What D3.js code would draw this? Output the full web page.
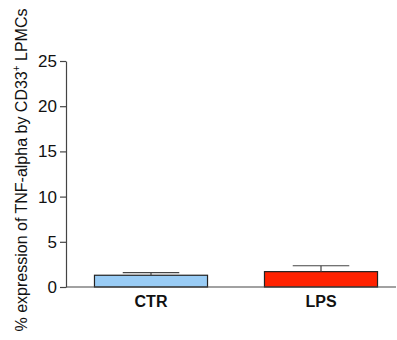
<!DOCTYPE html>
<html>
<head>
<meta charset="utf-8">
<script src="https://cdn.jsdelivr.net/npm/d3@7"></script>
<style>
  body { margin: 0; background: #fff; }
  svg { display: block; font-family: Arial, "Liberation Sans", sans-serif; }
</style>
</head>
<body>
<div id="chart"></div>
<script>
// Data
const categories = ['CTR', 'LPS'];
const means = [1.3, 1.7];
const errors = [0.3, 0.65];
const barColors = ['#99ccf5', '#ff2200'];
const yTicks = [0, 5, 10, 15, 20, 25];

const W = 397, H = 340;
const x0 = 66, yTop = 61, yBottom = 287;

const svg = d3.select('#chart')
    .append('svg')
    .attr('width', W)
    .attr('height', H);

const xScale = d3.scaleBand()
    .domain(categories)
    .range([x0, x0 + 340])
    .paddingInner(0.335)
    .paddingOuter(0.1675);

const yScale = d3.scaleLinear()
    .domain([0, 25])
    .range([yBottom, yTop]);

const axisColor = '#444';

// Bars
svg.selectAll('rect.bar')
    .data(categories)
    .enter()
    .append('rect')
    .attr('class', 'bar')
    .attr('x', d => xScale(d))
    .attr('y', (d, i) => yScale(means[i]))
    .attr('width', xScale.bandwidth())
    .attr('height', (d, i) => yScale(0) - yScale(means[i]))
    .attr('fill', (d, i) => barColors[i])
    .attr('stroke', '#222')
    .attr('stroke-width', 1.2);

// Error bars (upper only)
const capW = xScale.bandwidth() / 2;
categories.forEach((c, i) => {
    const cx = xScale(c) + xScale.bandwidth() / 2;
    svg.append('line')
        .attr('x1', cx).attr('x2', cx)
        .attr('y1', yScale(means[i]))
        .attr('y2', yScale(means[i] + errors[i]))
        .attr('stroke', axisColor)
        .attr('stroke-width', 1.2);
    svg.append('line')
        .attr('x1', cx - capW / 2).attr('x2', cx + capW / 2)
        .attr('y1', yScale(means[i] + errors[i]))
        .attr('y2', yScale(means[i] + errors[i]))
        .attr('stroke', axisColor)
        .attr('stroke-width', 1.2);
});

// Y axis
const yAxis = d3.axisLeft(yScale)
    .tickValues(yTicks)
    .tickSize(6)
    .tickPadding(3)
    .tickSizeOuter(0);

const gy = svg.append('g')
    .attr('transform', `translate(${x0},0)`)
    .call(yAxis);
gy.select('.domain').attr('stroke', axisColor).attr('stroke-width', 1.2);
gy.selectAll('.tick line').attr('stroke', axisColor).attr('stroke-width', 1.2);
gy.selectAll('.tick text')
    .attr('fill', '#111')
    .style('font-size', '17px')
    .style('font-family', 'Arial, "Liberation Sans", sans-serif');

// X axis baseline
svg.append('line')
    .attr('x1', x0).attr('x2', 396)
    .attr('y1', yScale(0)).attr('y2', yScale(0))
    .attr('stroke', axisColor)
    .attr('stroke-width', 1.2);

// Category labels
svg.selectAll('text.cat')
    .data(categories)
    .enter()
    .append('text')
    .attr('class', 'cat')
    .attr('x', d => xScale(d) + xScale.bandwidth() / 2)
    .attr('y', yScale(0) + 20)
    .attr('text-anchor', 'middle')
    .style('font-size', '16px')
    .style('font-weight', 'bold')
    .attr('fill', '#111')
    .text(d => d);

// Y axis title
const title = svg.append('text')
    .attr('transform', 'translate(27,170) rotate(-90)')
    .attr('text-anchor', 'middle')
    .style('font-size', '16px')
    .attr('fill', '#111');
title.append('tspan').text('% expression of TNF-alpha by CD33');
title.append('tspan').attr('dy', -7).style('font-size', '10px').text('+');
title.append('tspan').attr('dy', 7).text(' LPMCs');
</script>
</body>
</html>
